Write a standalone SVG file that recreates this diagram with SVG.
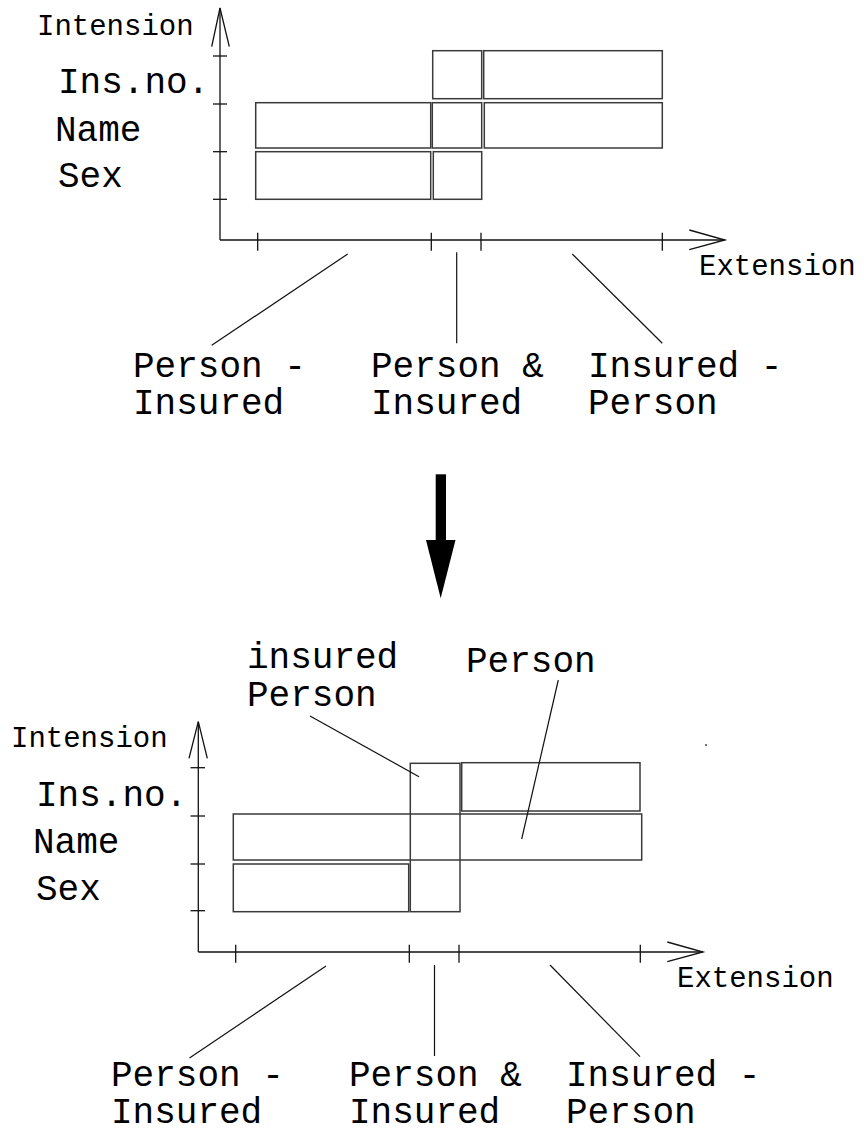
<svg xmlns="http://www.w3.org/2000/svg" width="864" height="1133" viewBox="0 0 864 1133">
  <style>
    .ax { stroke: #111; stroke-width: 1.3; fill: none; }
    .box { stroke: #3a3a3a; stroke-width: 1.5; fill: none; }
    .lead { stroke: #111; stroke-width: 1.2; fill: none; }
    text { font-family: "Liberation Mono", "Courier New", monospace; fill: #000; }
    .big { font-size: 36px; }
    .small { font-size: 29px; }
  </style>

  <!-- ============ Upper chart: separate classes ============ -->
  <g id="upper-axes" class="ax">
    <!-- intension axis -->
    <line x1="220" y1="240" x2="220" y2="8"/>
    <polyline points="211.7,46.7 220,8 229.3,46.7"/>
    <line x1="213" y1="56" x2="227" y2="56"/>
    <line x1="213" y1="104" x2="227" y2="104"/>
    <line x1="213" y1="151.7" x2="227" y2="151.7"/>
    <line x1="213" y1="199.3" x2="227" y2="199.3"/>
    <!-- extension axis -->
    <line x1="220" y1="240" x2="725" y2="240"/>
    <polyline points="689.3,230 725,240 689.3,249.7"/>
    <line x1="257.7" y1="232.7" x2="257.7" y2="250.7"/>
    <line x1="431.3" y1="232.7" x2="431.3" y2="250.7"/>
    <line x1="481" y1="232.7" x2="481" y2="250.7"/>
    <line x1="662.3" y1="232.7" x2="662.3" y2="250.7"/>
  </g>
  <g id="upper-axis-labels">
    <text class="small" x="37" y="35">Intension</text>
    <text class="big" x="58" y="93">Ins.no.</text>
    <text class="big" x="55" y="141">Name</text>
    <text class="big" x="58" y="187">Sex</text>
    <text class="small" x="699" y="275">Extension</text>
  </g>

  <g id="upper-person-minus-insured" class="box">
    <rect x="255.7" y="102.7" width="175" height="45.3"/>
    <rect x="255.7" y="151.7" width="175" height="47.6"/>
  </g>
  <g id="upper-person-and-insured" class="box">
    <rect x="432.7" y="50.7" width="49" height="48"/>
    <rect x="432.3" y="102.7" width="49.4" height="45.3"/>
    <rect x="433.3" y="151.7" width="48.4" height="47.6"/>
  </g>
  <g id="upper-insured-minus-person" class="box">
    <rect x="483.7" y="50.7" width="178.6" height="48"/>
    <rect x="484.3" y="102.7" width="178" height="45.3"/>
  </g>

  <g id="upper-connectors" class="lead">
    <line x1="347.7" y1="254" x2="211.7" y2="345.3"/>
    <line x1="456.7" y1="252.3" x2="456.7" y2="343.3"/>
    <line x1="572.3" y1="254" x2="662.3" y2="343.3"/>
  </g>
  <g id="upper-class-labels" class="big">
    <text x="133" y="377">Person -</text>
    <text x="133" y="414">Insured</text>
    <text x="371" y="377">Person &amp;</text>
    <text x="371" y="414">Insured</text>
    <text x="588" y="377">Insured -</text>
    <text x="588" y="414">Person</text>
  </g>

  <!-- ============ Transformation arrow ============ -->
  <g id="transform-arrow" fill="#000">
    <rect x="435.7" y="474.3" width="10.3" height="66"/>
    <polygon points="426,540 455.5,540 440.7,598.3"/>
  </g>

  <!-- ============ Lower chart: generalised classes ============ -->
  <g id="lower-axes" class="ax">
    <line x1="198.3" y1="952" x2="198.3" y2="721.7"/>
    <polyline points="189,758.3 198.3,721.7 207.3,758.3"/>
    <line x1="190.5" y1="767.7" x2="205" y2="767.7"/>
    <line x1="190.5" y1="816" x2="205" y2="816"/>
    <line x1="190.5" y1="864" x2="205" y2="864"/>
    <line x1="190.5" y1="910.7" x2="205" y2="910.7"/>
    <line x1="198.3" y1="952" x2="703" y2="952"/>
    <polyline points="667.3,942 703,952 667.3,961.7"/>
    <line x1="235.7" y1="944.7" x2="235.7" y2="962.7"/>
    <line x1="409.3" y1="944.7" x2="409.3" y2="962.7"/>
    <line x1="459" y1="944.7" x2="459" y2="962.7"/>
    <line x1="640.3" y1="944.7" x2="640.3" y2="962.7"/>
  </g>
  <g id="lower-axis-labels">
    <text class="small" x="11" y="747">Intension</text>
    <text class="big" x="36" y="806">Ins.no.</text>
    <text class="big" x="33" y="853">Name</text>
    <text class="big" x="36" y="900">Sex</text>
    <text class="small" x="677" y="987">Extension</text>
  </g>

  <g id="lower-person" class="box">
    <rect x="233.3" y="814" width="408.4" height="46"/>
    <rect x="461.7" y="762.7" width="178.3" height="48.3"/>
  </g>
  <g id="lower-insured-person" class="box">
    <rect x="410.3" y="763.3" width="49.7" height="148.4"/>
  </g>
  <g id="lower-sex-part" class="box">
    <rect x="233.3" y="864" width="175.4" height="47.7"/>
  </g>

  <g id="lower-callouts">
    <text class="big" x="247" y="668">insured</text>
    <text class="big" x="247" y="706">Person</text>
    <text class="big" x="466" y="672">Person</text>
  </g>

  <g id="lower-connectors" class="lead">
    <line x1="310" y1="716" x2="419" y2="776.7"/>
    <line x1="558.3" y1="680" x2="521.7" y2="839"/>
    <line x1="326" y1="966" x2="189.5" y2="1058"/>
    <line x1="434.5" y1="965" x2="434.5" y2="1056"/>
    <line x1="550" y1="965" x2="640" y2="1056.7"/>
  </g>
  <g id="lower-class-labels" class="big">
    <text x="111" y="1086">Person -</text>
    <text x="111" y="1123">Insured</text>
    <text x="349" y="1086">Person &amp;</text>
    <text x="349" y="1123">Insured</text>
    <text x="566" y="1086">Insured -</text>
    <text x="566" y="1123">Person</text>
  </g>

  <!-- small speck to the right of the lower chart -->
  <circle cx="706" cy="745" r="0.9" fill="#333"/>
</svg>
